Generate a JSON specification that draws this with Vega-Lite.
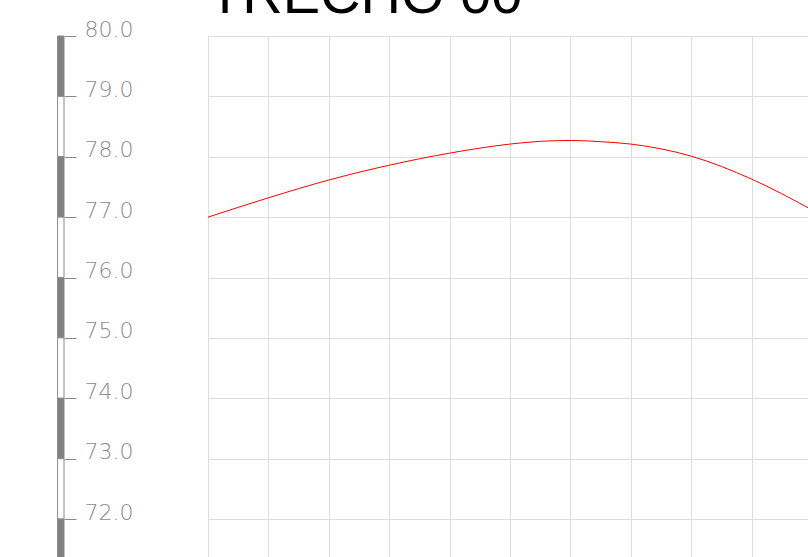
{
  "$schema": "https://vega.github.io/schema/vega-lite/v6.json",
  "autosize": {"type": "none"},
  "padding": {"left": 208, "top": 36, "right": 0, "bottom": 0},
  "width": 600,
  "height": 521,
  "background": "white",
  "config": {"view": {"stroke": null}},
  "datasets": {
    "profile": [
      {"estaca": 0, "cota": 77.0},
      {"estaca": 1, "cota": 77.32},
      {"estaca": 2, "cota": 77.615},
      {"estaca": 3, "cota": 77.86},
      {"estaca": 4, "cota": 78.06},
      {"estaca": 5, "cota": 78.21},
      {"estaca": 5.5, "cota": 78.255},
      {"estaca": 6, "cota": 78.27},
      {"estaca": 6.5, "cota": 78.25},
      {"estaca": 7, "cota": 78.21},
      {"estaca": 8, "cota": 78.01},
      {"estaca": 9, "cota": 77.63},
      {"estaca": 10, "cota": 77.12}
    ],
    "bar": [
      {"top": 80, "bottom": 79, "shade": "dark"},
      {"top": 79, "bottom": 78, "shade": "light"},
      {"top": 78, "bottom": 77, "shade": "dark"},
      {"top": 77, "bottom": 76, "shade": "light"},
      {"top": 76, "bottom": 75, "shade": "dark"},
      {"top": 75, "bottom": 74, "shade": "light"},
      {"top": 74, "bottom": 73, "shade": "dark"},
      {"top": 73, "bottom": 72, "shade": "light"},
      {"top": 72, "bottom": 71, "shade": "dark"}
    ],
    "titulo": [
      {"nome": "TRECHO 00"}
    ]
  },
  "layer": [
    {
      "data": {"name": "profile"},
      "mark": {"type": "line", "color": "#ff0000", "strokeWidth": 1, "interpolate": "monotone", "clip": true},
      "encoding": {
        "x": {
          "field": "estaca", "type": "quantitative",
          "scale": {"domain": [0, 9.934], "nice": false, "zero": false},
          "axis": {
            "values": [0, 1, 2, 3, 4, 5, 6, 7, 8, 9],
            "labels": false, "ticks": false, "domain": false, "title": null,
            "grid": true, "gridColor": "#dddddd", "gridWidth": 1
          }
        },
        "y": {
          "field": "cota", "type": "quantitative",
          "scale": {"domain": [71.371, 80], "nice": false, "zero": false},
          "axis": {
            "values": [72, 73, 74, 75, 76, 77, 78, 79, 80],
            "format": ".1f",
            "title": null,
            "domain": false,
            "grid": true, "gridColor": "#dddddd", "gridWidth": 1,
            "offset": 144,
            "ticks": true, "tickSize": -12, "tickColor": "#888888", "tickWidth": 1,
            "labelPadding": -8,
            "labelAlign": "left",
            "labelBaseline": "alphabetic",
            "labelFont": "DejaVu Sans",
            "labelFontWeight": 200,
            "labelFontSize": 22,
            "labelColor": "#8c8c8c",
            "labelOverlap": false,
            "labelFlush": false,
            "labelBound": false
          }
        }
      }
    },
    {
      "data": {"name": "bar"},
      "mark": {"type": "rect", "strokeWidth": 1, "stroke": "#8a8a8a"},
      "encoding": {
        "x": {"datum": -2.49, "type": "quantitative"},
        "x2": {"datum": -2.384},
        "y": {"field": "top", "type": "quantitative"},
        "y2": {"field": "bottom"},
        "fill": {
          "field": "shade", "type": "nominal",
          "scale": {"domain": ["dark", "light"], "range": ["#808080", "#ffffff"]},
          "legend": null
        }
      }
    },
    {
      "data": {"name": "titulo"},
      "mark": {
        "type": "text", "align": "left", "baseline": "alphabetic",
        "font": "Liberation Sans", "fontSize": 56, "color": "#000000"
      },
      "encoding": {
        "x": {"datum": 0, "type": "quantitative"},
        "y": {"datum": 80.381, "type": "quantitative"},
        "text": {"field": "nome"}
      }
    }
  ]
}
